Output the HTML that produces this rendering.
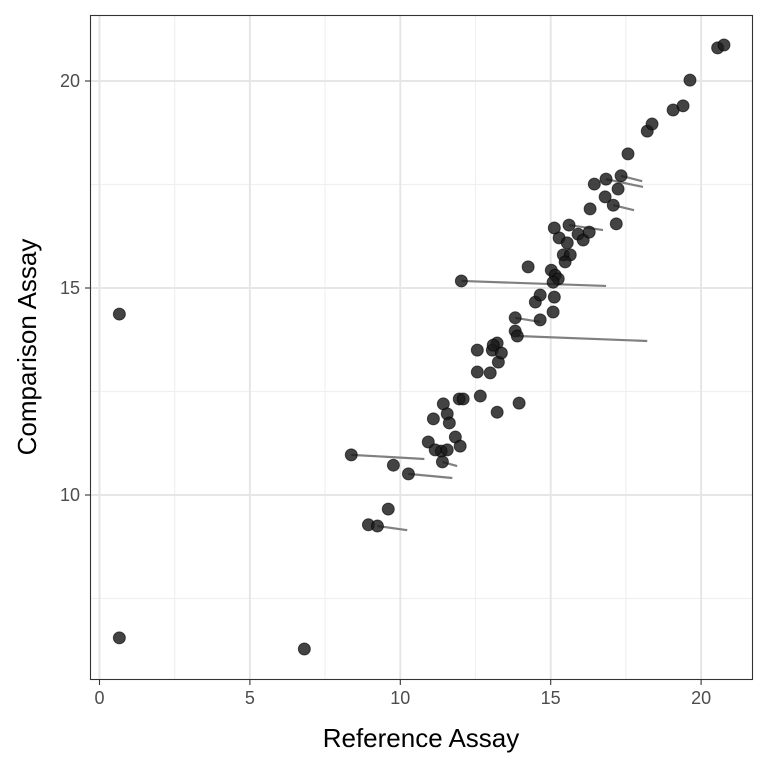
<!DOCTYPE html>
<html><head><meta charset="utf-8"><style>
html,body{margin:0;padding:0;background:#fff;}
svg text{font-family:"Liberation Sans",Arial,sans-serif;}
</style></head><body>
<svg id="chart" width="768" height="768" viewBox="0 0 768 768" xmlns="http://www.w3.org/2000/svg">
<rect x="0" y="0" width="768" height="768" fill="#fff"/>
<g id="grid"></g>
<g id="segs"></g>
<g id="pts"></g>
<rect x="90.5" y="15.5" width="662" height="664" fill="none" stroke="#333" stroke-width="1.1"/>
<g id="axes"></g>
<text x="421" y="747" text-anchor="middle" font-size="26" fill="#000">Reference Assay</text>
<text transform="translate(36,347) rotate(-90)" text-anchor="middle" font-size="26" fill="#000">Comparison Assay</text>
</svg>
<script>
const xs=[0.66,0.66,6.81,8.37,9.77,10.27,9.60,8.94,9.24,10.93,11.10,11.36,11.40,11.43,11.56,11.63,11.83,11.99,11.16,11.56,11.96,12.09,12.66,13.22,13.95,12.56,12.99,13.26,12.56,13.22,13.06,13.36,13.09,13.82,14.65,13.82,13.89,14.49,14.65,15.12,15.08,12.03,14.25,15.02,15.15,15.25,15.08,15.42,15.65,15.48,15.28,15.55,15.12,15.61,15.91,16.08,16.28,16.31,17.08,17.18,16.84,16.45,16.81,17.34,17.24,17.57,18.21,18.37,19.07,19.40,19.63,20.55,20.76];
const ys=[14.37,6.55,6.28,10.97,10.72,10.51,9.66,9.28,9.25,11.28,11.84,11.06,10.80,12.20,11.96,11.74,11.40,11.18,11.09,11.09,12.32,12.32,12.39,12.00,12.22,12.97,12.95,13.21,13.50,13.67,13.50,13.43,13.62,14.28,14.23,13.96,13.84,14.66,14.83,14.78,14.42,15.17,15.51,15.43,15.31,15.22,15.14,15.80,15.80,15.63,16.21,16.09,16.45,16.52,16.30,16.16,16.35,16.91,17.00,16.55,17.63,17.51,17.20,17.71,17.39,18.24,18.79,18.96,19.30,19.40,20.02,20.80,20.87];
const segX=[8.37,10.27,9.24,11.40,13.82,13.89,12.03,15.61,17.08,16.84,17.34];
const segY=[10.97,10.51,9.25,10.80,14.28,13.84,15.17,16.52,17.00,17.63,17.71];
const segXend=[10.80,11.73,10.23,11.89,14.65,18.21,16.84,16.74,17.77,18.07,18.04];
const segYend=[10.87,10.41,9.15,10.70,14.18,13.72,15.05,16.40,16.88,17.44,17.58];
const xTicks=[0,5,10,15,20], yTicks=[10,15,20];
const xMinor=[2.5,7.5,12.5,17.5], yMinor=[7.5,12.5,17.5];
const X=v=>99.5+v*30.08, Y=v=>81+(20-v)*41.4;
const NS="http://www.w3.org/2000/svg";
function mk(t,a,p){const e=document.createElementNS(NS,t);for(const k in a)e.setAttribute(k,a[k]);p.appendChild(e);return e;}
const g=document.getElementById('grid'),sg=document.getElementById('segs'),pg=document.getElementById('pts'),ag=document.getElementById('axes');
xMinor.forEach(v=>{const e=mk('line',{x1:X(v),x2:X(v),y1:15,y2:680,stroke:'#f0f0f0','stroke-width':1.2},g);

});
yMinor.forEach(v=>{const e=mk('line',{x1:90,x2:753,y1:Y(v),y2:Y(v),stroke:'#f0f0f0','stroke-width':1.2},g);

});
xTicks.forEach(v=>{const e=mk('line',{x1:X(v),x2:X(v),y1:15,y2:680,stroke:'#e6e6e6','stroke-width':2},g);


const t=mk('line',{x1:X(v),x2:X(v),y1:680,y2:685,stroke:'#333','stroke-width':1.1},ag);


const l=mk('text',{x:X(v),y:704,'text-anchor':'middle','font-size':18,fill:'#4d4d4d'},ag);l.textContent=v;

});
yTicks.forEach(v=>{const e=mk('line',{x1:90,x2:753,y1:Y(v),y2:Y(v),stroke:'#e6e6e6','stroke-width':2},g);


const t=mk('line',{x1:85,x2:90,y1:Y(v),y2:Y(v),stroke:'#333','stroke-width':1.1},ag);


const l=mk('text',{x:80,y:Y(v)+6,'text-anchor':'end','font-size':18,fill:'#4d4d4d'},ag);l.textContent=v;

});
segX.forEach((v,i)=>{const e=mk('line',{x1:X(v),y1:Y(segY[i]),x2:X(segXend[i]),y2:Y(segYend[i]),stroke:'#808080','stroke-width':2.2},sg);

});
xs.forEach((v,i)=>{const e=mk('circle',{cx:X(v),cy:Y(ys[i]),r:6,fill:'#1a1a1a','fill-opacity':0.82,stroke:'#000','stroke-opacity':0.6,'stroke-width':1},pg);

});
</script>
</body></html>
